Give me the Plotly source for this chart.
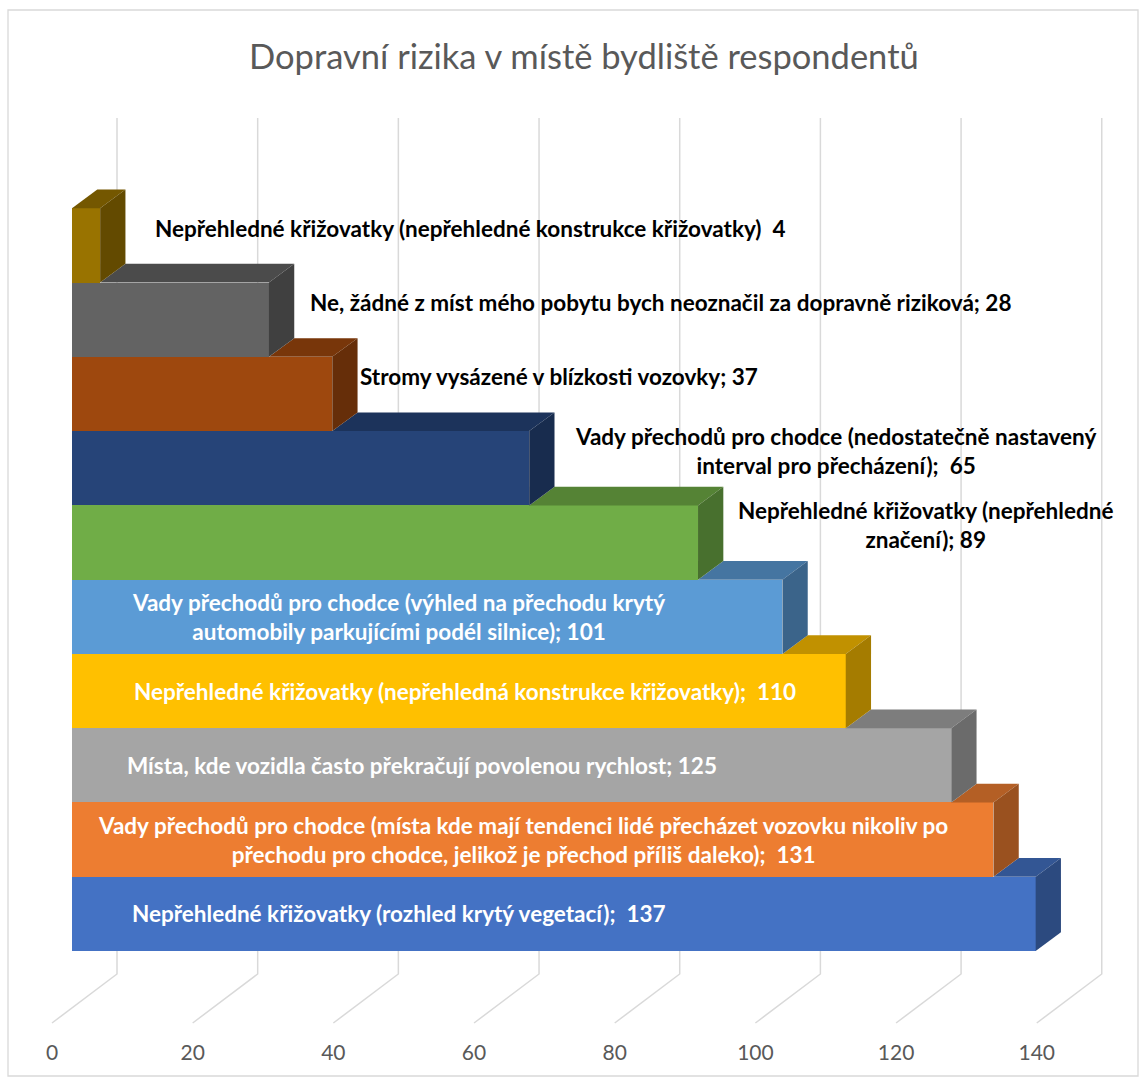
import plotly.graph_objects as go

# =========================
# Data (bottom bar first)
# =========================
categories = [
    "Nepřehledné křižovatky (rozhled krytý vegetací)",
    "Vady přechodů pro chodce (místa kde mají tendenci lidé přecházet vozovku nikoliv po<br>přechodu pro chodce, jelikož je přechod příliš daleko)",
    "Místa, kde vozidla často překračují povolenou rychlost",
    "Nepřehledné křižovatky (nepřehledná konstrukce křižovatky)",
    "Vady přechodů pro chodce (výhled na přechodu krytý<br>automobily parkujícími podél silnice)",
    "Nepřehledné křižovatky (nepřehledné<br>značení)",
    "Vady přechodů pro chodce (nedostatečně nastavený<br>interval pro přecházení)",
    "Stromy vysázené v blízkosti vozovky",
    "Ne, žádné z míst mého pobytu bych neoznačil za dopravně riziková",
    "Nepřehledné křižovatky (nepřehledné konstrukce křižovatky)",
]
values = [137, 131, 125, 110, 101, 89, 65, 37, 28, 4]
separators = [";\u00a0 ", ";\u00a0 ", "; ", ";\u00a0 ", "; ", "; ", ";\u00a0 ", "; ", "; ", "\u00a0 "]
tick_values = [0, 20, 40, 60, 80, 100, 120, 140]

bar_colors = ["#4472C4", "#ED7D31", "#A5A5A5", "#FFC000", "#5B9BD5",
              "#70AD47", "#264478", "#9E480E", "#636363", "#997300"]

# label centre along the value axis (layout, not data)
label_x = [46.5, 64.1, 49.8, 55.9, 46.4, 121.3, 108.5, 69.2, 83.7, 56.6]

# =========================
# Geometry of the fake 3D view
# =========================
W, H = 1146, 1084
PX_X = 7.034          # px per value unit
X0 = 72               # px of value 0 on bar front
PITCH = 74.27         # px per category
Y_BASE = 951          # px of bottom edge of first bar
MB = 46
PB = H - MB

DX = 25.3 / PX_X      # bar depth (x)
DY = 18.7 / PITCH     # bar depth (y)
FLOOR_FRONT_DX = -20 / PX_X
FLOOR_BACK_DX = 45 / PX_X


def ydat(px):
    return (Y_BASE - px) / PITCH - 0.5


def shade(hex_color, f):
    h = hex_color.lstrip("#")
    r, g, b = (int(h[i:i + 2], 16) for i in (0, 2, 4))
    return "rgb(%d,%d,%d)" % (r * f, g * f, b * f)


fig = go.Figure()

# front faces
fig.add_trace(go.Bar(
    x=values, y=list(range(len(values))), orientation="h", width=1,
    marker=dict(color=bar_colors, line=dict(width=0)),
    hoverinfo="skip", showlegend=False,
))

# top and side faces
n = len(values)
for i, v in enumerate(values):
    left = values[i + 1] if i + 1 < n else 0
    y0, y1 = i - 0.5, i + 0.5
    fig.add_trace(go.Scatter(
        x=[left, v, v + DX, left + DX, left],
        y=[y1, y1, y1 + DY, y1 + DY, y1],
        mode="lines", fill="toself", fillcolor=shade(bar_colors[i], 0.76),
        line=dict(width=0, color=shade(bar_colors[i], 0.76)),
        hoverinfo="skip", showlegend=False,
    ))
    fig.add_trace(go.Scatter(
        x=[v, v + DX, v + DX, v, v],
        y=[y0, y0 + DY, y1 + DY, y1, y0],
        mode="lines", fill="toself", fillcolor=shade(bar_colors[i], 0.65),
        line=dict(width=0, color=shade(bar_colors[i], 0.65)),
        hoverinfo="skip", showlegend=False,
    ))

# back wall + floor gridlines
shapes = []
y_top, y_back, y_front = ydat(118), ydat(974), ydat(1023)
for t in tick_values:
    xb, xf = t + FLOOR_BACK_DX, t + FLOOR_FRONT_DX
    shapes.append(dict(
        type="path", xref="x", yref="y", layer="below",
        path=f"M {xb},{y_top} L {xb},{y_back} L {xf},{y_front}",
        line=dict(color="#D9D9D9", width=1.5),
    ))

# chart border
shapes.append(dict(
    type="rect", xref="paper", yref="paper", layer="above",
    x0=8 / W, x1=1138 / W, y0=(PB - 1076) / PB, y1=(PB - 10) / PB,
    line=dict(color="#D9D9D9", width=1.3), fillcolor="rgba(0,0,0,0)",
))

# data labels
annotations = []
for i, (cat, v) in enumerate(zip(categories, values)):
    inside = v > 100
    annotations.append(dict(
        x=label_x[i], y=i if inside else i + 0.23, xref="x", yref="y",
        text=f"{cat}{separators[i]}{v}", showarrow=False,
        xanchor="center", yanchor="middle", align="center",
        font=dict(family="Lato", size=22.5, color="white" if inside else "black",
                  weight="bold"),
    ))

annotations.append(dict(
    x=583.5 / W, y=(PB - 55) / PB, xref="paper", yref="paper",
    text="Dopravní rizika v místě bydliště respondentů", showarrow=False,
    xanchor="center", yanchor="middle",
    font=dict(family="Lato", size=34.5, color="#595959"),
))

x_lo = -X0 / PX_X
x_hi = (W - X0) / PX_X

fig.update_layout(
    width=W, height=H,
    margin=dict(l=0, r=0, t=0, b=MB, pad=0),
    paper_bgcolor="white", plot_bgcolor="rgba(0,0,0,0)",
    xaxis=dict(
        range=[x_lo, x_hi], showgrid=False, zeroline=False, showline=False,
        tickmode="array", tickvals=[t + FLOOR_FRONT_DX for t in tick_values],
        ticktext=[str(t) for t in tick_values], ticks="",
        tickfont=dict(family="Lato", size=21, color="#595959"),
        fixedrange=True,
    ),
    yaxis=dict(
        range=[ydat(PB), ydat(0)], showgrid=False, zeroline=False,
        showline=False, showticklabels=False, fixedrange=True,
    ),
    shapes=shapes,
    annotations=annotations,
    bargap=0,
)

fig.write_html("out.html", config={"displayModeBar": False},
               post_script="document.body.style.margin='0px';")
